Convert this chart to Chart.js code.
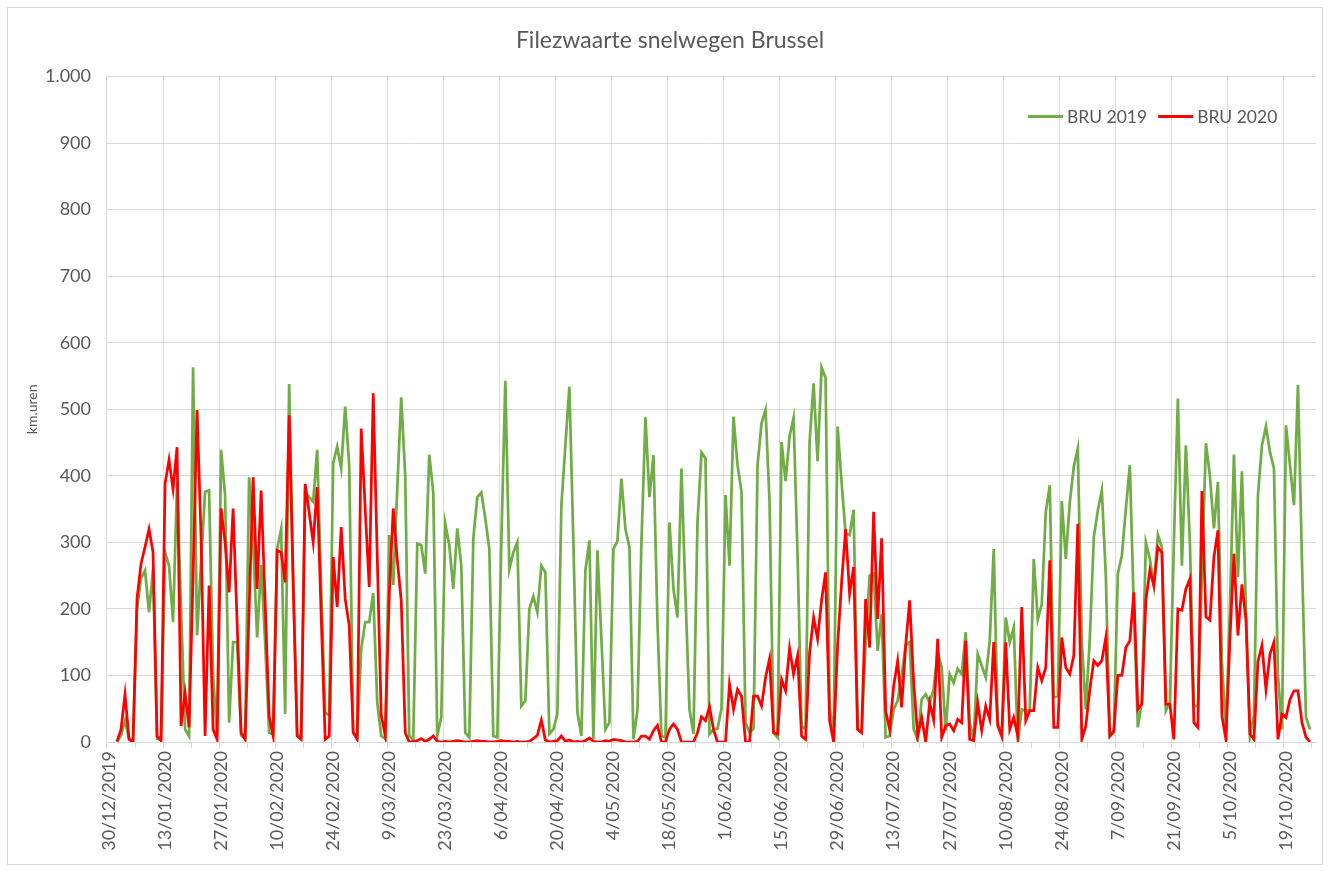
<!DOCTYPE html>
<html>
<head>
<meta charset="utf-8">
<script src="https://cdn.jsdelivr.net/npm/chart.js@4.4.1/dist/chart.umd.min.js"></script>
<style>
  html, body { margin: 0; padding: 0; background: #fff; }
</style>
</head>
<body>
<canvas id="myChart" width="1330" height="871"></canvas>
<script>
// daily axis: 30/12/2019 .. 27/10/2020, labels every 14 days, minor ticks every 7
const startDay = Date.UTC(2019, 11, 30);
const dayCount = 302;
const labelEvery = 14;
const tickEvery = 7;

// one row per week (Mon..Sun)
const bru2019 = [
  null, null, 0, 10, 32, 5, 0,
  200, 246, 258, 195, 260, 5, 4,
  285, 265, 180, 390, 200, 19, 9,
  563, 160, 270, 376, 378, 100, 9,
  439, 371, 29, 150, 150, 10, 5,
  398, 300, 157, 266, 150, 14, 12,
  290, 320, 42, 538, 250, 12, 9,
  376, 368, 361, 439, 230, 44, 40,
  419, 444, 411, 504, 416, 14, 9,
  140, 180, 180, 224, 60, 9, 5,
  311, 236, 380, 518, 400, 9, 4,
  298, 296, 253, 432, 375, 9, 37,
  328, 296, 230, 321, 265, 14, 7,
  306, 368, 375, 336, 290, 9, 7,
  300, 543, 260, 285, 300, 54, 62,
  200, 219, 195, 265, 255, 12, 19,
  42, 355, 446, 534, 300, 45, 9,
  258, 303, 4, 288, 155, 19, 29,
  290, 302, 396, 320, 293, 4, 47,
  300, 488, 368, 431, 180, 9, 7,
  330, 230, 187, 411, 220, 49, 12,
  330, 435, 426, 12, 19, 20, 50,
  371, 265, 489, 416, 376, 29, 14,
  20, 416, 479, 499, 361, 14, 7,
  451, 392, 459, 487, 280, 24, 19,
  451, 539, 422, 563, 547, 54, 7,
  474, 390, 313, 311, 349, 19, 14,
  150, 250, 253, 137, 192, 7, 9,
  49, 62, 100, 145, 150, 19, 4,
  64, 72, 59, 80, 135, 112, 17,
  102, 89, 110, 102, 165, 29, 4,
  132, 115, 97, 152, 290, 29, 9,
  187, 150, 172, 0, 49, 47, 47,
  275, 184, 207, 346, 386, 67, 69,
  362, 275, 360, 414, 441, 150, 49,
  155, 308, 348, 378, 250, 9, 14,
  253, 280, 350, 416, 200, 22, 60,
  300, 275, 235, 311, 293, 47, 60,
  300, 516, 265, 446, 300, 54, 54,
  255, 449, 400, 321, 391, 120, 15,
  200, 432, 248, 407, 200, 9, 40,
  371, 446, 474, 436, 411, 100, 19,
  476, 416, 356, 537, 270, 37, 19,
  null
];

const bru2020 = [
  null, null, 1, 19, 72, 4, 0,
  215, 268, 293, 320, 285, 9, 2,
  388, 424, 380, 443, 24, 74, 22,
  250, 499, 307, 9, 235, 19, 4,
  351, 300, 225, 351, 180, 14, 4,
  200, 398, 230, 378, 210, 39, 9,
  288, 285, 240, 491, 240, 9, 4,
  388, 345, 300, 383, 190, 4, 9,
  278, 203, 323, 215, 175, 14, 4,
  471, 350, 233, 524, 280, 40, 10,
  220, 351, 274, 212, 14, 0, 1,
  2, 5, 1, 4, 9, 1, 0,
  1, 0, 1, 2, 1, 0, 0,
  1, 2, 1, 1, 0, 0, 1,
  2, 1, 1, 0, 1, 0, 0,
  1, 5, 10, 33, 3, 0, 1,
  2, 9, 1, 3, 0, 1, 0,
  2, 6, 1, 0, 0, 2, 1,
  4, 3, 2, 0, 0, 0, 1,
  9, 9, 4, 17, 25, 0, 0,
  19, 27, 19, 0, 0, 0, 0,
  14, 38, 32, 53, 19, 0, 0,
  0, 87, 49, 79, 69, 0, 0,
  69, 69, 54, 97, 125, 14, 12,
  94, 77, 141, 102, 130, 9, 4,
  134, 187, 155, 213, 255, 32, 0,
  145, 240, 320, 223, 263, 19, 14,
  215, 142, 346, 185, 306, 47, 19,
  84, 122, 52, 145, 213, 90, 9,
  37, 0, 59, 33, 155, 7, 24,
  27, 17, 34, 29, 152, 4, 2,
  59, 17, 54, 34, 150, 24, 9,
  150, 19, 37, 9, 203, 32, 47,
  47, 112, 92, 112, 273, 22, 22,
  157, 112, 102, 130, 328, 4, 24,
  79, 122, 115, 122, 157, 9, 17,
  100, 100, 142, 152, 225, 49, 57,
  213, 258, 235, 293, 285, 57, 57,
  4, 200, 198, 230, 245, 29, 22,
  377, 188, 183, 278, 318, 39, 4,
  155, 283, 160, 237, 184, 12, 4,
  121, 145, 79, 132, 150, 4, 42,
  37, 64, 77, 77, 29, 7, 0,
  null
];

const yMax = 1000;
const yStep = 100;

const labels = [];
for (let i = 0; i < dayCount; i++) {
    const d = new Date(startDay + i * 86400000);
    labels.push(d.getUTCDate() + "/" + String(d.getUTCMonth() + 1).padStart(2, "0") + "/" + d.getUTCFullYear());
}

const font = "Lato, 'Open Sans', sans-serif";
const textColor = "#595959";
const gridColor = "#d9d9d9";

// legend drawn inside the plot, top right, like the Excel original
const legendInPlot = {
    id: "legendInPlot",
    afterDraw(chart) {
        const { ctx, chartArea } = chart;
        ctx.save();
        ctx.font = "17.5px " + font;
        ctx.textBaseline = "middle";
        let x = chartArea.right - 288;
        const y = chartArea.top + 40;
        chart.data.datasets.forEach((ds) => {
            ctx.strokeStyle = ds.borderColor;
            ctx.lineWidth = 3;
            ctx.beginPath();
            ctx.moveTo(x, y);
            ctx.lineTo(x + 35, y);
            ctx.stroke();
            ctx.fillStyle = textColor;
            ctx.fillText(ds.label, x + 39, y + 1);
            x += 39 + ctx.measureText(ds.label).width + 11;
        });
        ctx.restore();
    },
};

const frame = {
    id: "frame",
    beforeDraw(chart) {
        const { ctx } = chart;
        ctx.save();
        ctx.strokeStyle = gridColor;
        ctx.lineWidth = 1;
        ctx.strokeRect(7.5, 7.5, chart.width - 15, chart.height - 14);
        ctx.restore();
    },
};

const ctx = document.getElementById("myChart");

new Chart(ctx, {
    type: "line",
    data: {
        labels: labels,
        datasets: [
            {
                label: "BRU 2019",
                data: bru2019,
                borderColor: "#70ad47",
                borderWidth: 2.75,
                pointRadius: 0,
                tension: 0,
                order: 1,
            },
            {
                label: "BRU 2020",
                data: bru2020,
                borderColor: "#ff0000",
                borderWidth: 2.75,
                pointRadius: 0,
                tension: 0,
                order: 0,
            },
        ],
    },
    options: {
        responsive: false,
        animation: false,
        layout: {
            padding: { left: 24, right: 14, top: 0, bottom: 0 },
        },
        scales: {
            x: {
                offset: true,
                grid: {
                    offset: true,
                    color: (c) => (c.index % labelEvery === 0 ? gridColor : "transparent"),
                    tickColor: (c) => (c.index % tickEvery === 0 ? gridColor : "transparent"),
                    tickLength: 6,
                },
                border: {
                    color: gridColor,
                },
                ticks: {
                    autoSkip: false,
                    maxRotation: 90,
                    minRotation: 90,
                    padding: 3,
                    color: textColor,
                    font: { family: font, size: 18 },
                    callback: function (value, index) {
                        return index % labelEvery === 0 ? this.getLabelForValue(value) : "";
                    },
                },
                afterFit: (scale) => {
                    scale.height = 129;
                    scale.paddingLeft = 0;
                    scale.paddingRight = 0;
                },
            },
            y: {
                min: 0,
                max: yMax,
                ticks: {
                    stepSize: yStep,
                    padding: 16,
                    color: textColor,
                    font: { family: font, size: 18 },
                    callback: (v) => String(v).replace(/\B(?=(\d{3})+(?!\d))/g, "."),
                },
                grid: {
                    color: gridColor,
                    drawTicks: false,
                },
                border: {
                    display: false,
                },
                title: {
                    display: true,
                    text: "km.uren",
                    color: textColor,
                    font: { family: font, size: 14 },
                    padding: { top: 0, bottom: 0 },
                },
                afterFit: (scale) => {
                    scale.width = 83;
                },
            },
        },
        plugins: {
            legend: {
                display: false,
            },
            tooltip: {
                enabled: false,
            },
            title: {
                display: true,
                text: "Filezwaarte snelwegen Brussel",
                color: textColor,
                font: { family: font, size: 23, weight: "normal" },
                padding: { top: 27, bottom: 22 },
            },
        },
    },
    plugins: [frame, legendInPlot],
});
</script>
</body>
</html>
